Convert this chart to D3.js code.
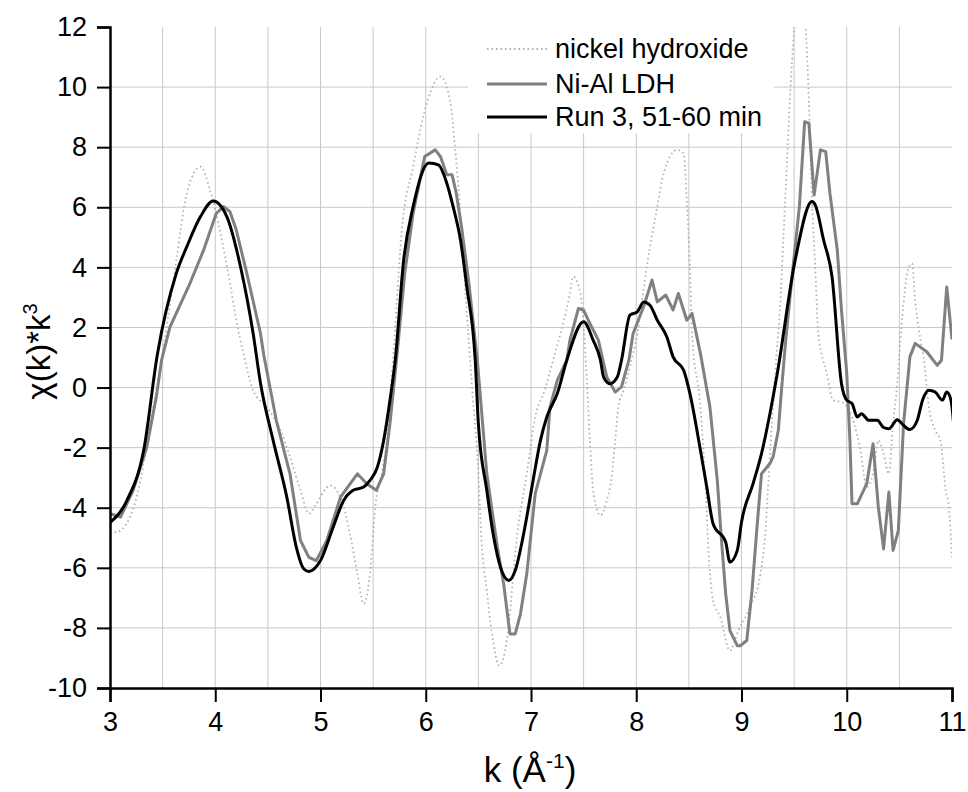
<!DOCTYPE html>
<html>
<head>
<meta charset="utf-8">
<script src="https://cdn.jsdelivr.net/npm/d3@7"></script>
<style>
  body { margin: 0; background: #fff; }
  svg text { font-family: "Liberation Sans", Arial, sans-serif; }
</style>
</head>
<body>
<div id="chart"></div>
<script>
// nickel hydroxide (dotted reference)
const niK = [3.00, 3.06, 3.19, 3.29, 3.38, 3.46, 3.63, 3.73, 3.86, 3.95, 4.05, 4.14, 4.20, 4.27, 4.36, 4.49, 4.62, 4.71, 4.81, 4.89, 4.96, 5.09, 5.19, 5.28, 5.35, 5.41, 5.47, 5.52, 5.58, 5.63, 5.70, 5.77, 5.88, 6.02, 6.14, 6.23, 6.28, 6.31, 6.38, 6.44, 6.50, 6.53, 6.58, 6.63, 6.70, 6.77, 6.87, 6.96, 7.04, 7.13, 7.21, 7.37, 7.40, 7.47, 7.51, 7.56, 7.59, 7.66, 7.72, 7.77, 7.80, 7.83, 7.88, 7.94, 8.01, 8.10, 8.20, 8.26, 8.39, 8.45, 8.48, 8.51, 8.53, 8.61, 8.66, 8.69, 8.73, 8.80, 8.89, 8.97, 9.08, 9.18, 9.23, 9.26, 9.32, 9.37, 9.40, 9.43, 9.46, 9.50, 9.56, 9.64, 9.67, 9.70, 9.73, 9.81, 9.87, 9.96, 10.07, 10.13, 10.19, 10.25, 10.30, 10.35, 10.40, 10.44, 10.48, 10.51, 10.59, 10.62, 10.65, 10.69, 10.73, 10.78, 10.84, 10.89, 10.94, 10.97, 11.00];
const niY = [-4.8, -4.81, -4.31, -3.09, -1.2, 0.24, 4.24, 6.47, 7.35, 6.58, 5.13, 3.47, 2.24, 1.1, -0.09, -0.65, -1.42, -2.31, -3.42, -4.2, -3.87, -3.26, -3.65, -4.87, -6.2, -7.2, -6.2, -3.98, -2.87, -1.76, 1.5, 5.13, 7.35, 9.58, 10.35, 9.58, 7.91, 6.69, 3.0, 0.0, -2.87, -5.09, -6.76, -8.2, -9.26, -8.42, -4.87, -2.87, -0.98, -0.09, 0.91, 3.13, 3.69, 3.13, 1.5, -1.76, -3.42, -4.26, -3.76, -2.87, -1.76, -0.65, -0.09, 0.69, 1.8, 4.02, 6.02, 7.13, 7.91, 7.8, 6.24, 4.02, 1.8, -0.65, -3.42, -5.65, -7.09, -7.65, -8.76, -8.09, -7.31, -6.2, -4.65, -2.87, 0.5, 2.91, 5.13, 7.35, 9.58, 11.9, 13.5, 9.58, 6.24, 4.02, 1.8, 0.47, -0.42, -0.5, -1.2, -2.09, -3.31, -2.87, -1.76, -2.2, -2.87, -1.2, 0.13, 1.58, 4.02, 4.13, 2.91, 1.8, 1.02, -0.65, -1.42, -1.76, -3.42, -3.98, -5.65];

// Ni-Al LDH (grey)
const ldhK = [3.00, 3.10, 3.22, 3.35, 3.44, 3.49, 3.57, 3.76, 3.89, 4.01, 4.08, 4.14, 4.20, 4.30, 4.43, 4.46, 4.58, 4.71, 4.81, 4.89, 4.96, 5.06, 5.19, 5.35, 5.44, 5.53, 5.60, 5.66, 5.73, 5.80, 5.88, 5.99, 6.09, 6.14, 6.20, 6.25, 6.29, 6.34, 6.41, 6.49, 6.58, 6.68, 6.74, 6.80, 6.85, 6.90, 6.96, 7.04, 7.15, 7.18, 7.25, 7.34, 7.37, 7.45, 7.50, 7.56, 7.64, 7.72, 7.80, 7.86, 7.93, 7.97, 8.07, 8.15, 8.20, 8.28, 8.35, 8.40, 8.48, 8.53, 8.61, 8.70, 8.77, 8.81, 8.85, 8.89, 8.96, 8.99, 9.05, 9.10, 9.15, 9.19, 9.27, 9.30, 9.35, 9.38, 9.42, 9.49, 9.55, 9.60, 9.64, 9.69, 9.75, 9.80, 9.84, 9.91, 9.95, 10.00, 10.03, 10.05, 10.10, 10.19, 10.25, 10.30, 10.35, 10.40, 10.44, 10.49, 10.54, 10.60, 10.65, 10.76, 10.86, 10.90, 10.95, 11.00];
const ldhY = [-4.2, -4.31, -3.42, -1.98, -0.31, 0.91, 2.02, 3.47, 4.58, 5.8, 6.02, 5.85, 5.24, 3.8, 1.8, 1.1, -1.09, -2.87, -5.09, -5.65, -5.76, -5.09, -3.65, -2.87, -3.2, -3.42, -2.87, -1.2, 1.2, 3.8, 5.8, 7.69, 7.91, 7.69, 7.08, 7.08, 6.47, 5.35, 3.47, 0.91, -2.87, -5.31, -6.53, -8.2, -8.2, -7.53, -6.2, -3.53, -2.09, -0.65, 0.24, 0.91, 1.58, 2.63, 2.58, 2.13, 1.58, 0.35, -0.15, 0.02, 0.91, 1.8, 2.69, 3.58, 2.85, 3.08, 2.58, 3.13, 2.24, 2.47, 1.13, -0.65, -3.09, -5.09, -6.87, -8.09, -8.59, -8.59, -8.42, -6.76, -4.53, -2.87, -2.53, -2.31, -1.42, -0.09, 1.58, 4.02, 6.02, 8.85, 8.8, 6.41, 7.91, 7.85, 6.47, 4.58, 2.58, 0.47, -1.76, -3.87, -3.87, -3.2, -1.87, -3.98, -5.37, -3.48, -5.42, -4.76, -1.2, 1.02, 1.47, 1.19, 0.74, 0.91, 3.35, 1.6];

// Run 3, 51-60 min (black)
const runK = [3.00, 3.16, 3.32, 3.45, 3.63, 3.73, 3.86, 3.98, 4.11, 4.24, 4.36, 4.43, 4.55, 4.68, 4.77, 4.84, 4.89, 5.00, 5.12, 5.22, 5.31, 5.41, 5.47, 5.54, 5.60, 5.66, 5.71, 5.79, 5.88, 6.03, 6.12, 6.20, 6.26, 6.33, 6.39, 6.47, 6.50, 6.58, 6.64, 6.71, 6.79, 6.85, 6.93, 7.02, 7.09, 7.15, 7.25, 7.34, 7.50, 7.59, 7.66, 7.69, 7.75, 7.82, 7.86, 7.94, 8.01, 8.07, 8.13, 8.20, 8.29, 8.35, 8.45, 8.51, 8.61, 8.67, 8.73, 8.85, 8.89, 8.96, 9.00, 9.11, 9.19, 9.27, 9.34, 9.51, 9.67, 9.70, 9.78, 9.86, 9.95, 10.00, 10.05, 10.10, 10.14, 10.21, 10.29, 10.35, 10.40, 10.48, 10.54, 10.60, 10.67, 10.72, 10.78, 10.84, 10.91, 10.95, 10.99, 11.02];
const runY = [-4.5, -3.76, -2.09, 1.1, 3.8, 4.69, 5.69, 6.21, 5.69, 4.02, 1.8, 0.14, -1.76, -3.65, -5.31, -6.03, -6.12, -5.76, -4.65, -3.76, -3.42, -3.31, -3.09, -2.65, -1.76, -0.42, 0.91, 4.24, 6.02, 7.47, 7.41, 6.8, 6.02, 4.91, 3.35, 0.91, -1.2, -3.42, -4.87, -5.98, -6.42, -6.09, -4.87, -3.09, -1.76, -0.98, -0.2, 0.91, 2.19, 1.58, 0.91, 0.35, 0.13, 0.35, 0.91, 2.41, 2.52, 2.85, 2.74, 2.24, 1.69, 1.02, 0.58, -0.2, -2.09, -3.31, -4.53, -5.15, -5.81, -5.42, -4.48, -3.2, -2.2, -0.87, 0.47, 4.24, 6.19, 6.08, 4.91, 3.69, 0.13, -0.42, -0.53, -0.98, -0.87, -1.09, -1.09, -1.33, -1.37, -1.07, -1.26, -1.4, -1.09, -0.42, -0.09, -0.15, -0.42, -0.15, -0.42, -1.4];

const legendLabels = ["nickel hydroxide", "Ni-Al LDH", "Run 3, 51-60 min"];
const xTicks = [3, 4, 5, 6, 7, 8, 9, 10, 11];
const yTicks = [-10, -8, -6, -4, -2, 0, 2, 4, 6, 8, 10, 12];

const width = 968, height = 792;
const margin = { top: 27, right: 16, bottom: 104, left: 110 };
const plotW = width - margin.left - margin.right;
const plotH = height - margin.top - margin.bottom;

const svg = d3.select("#chart").append("svg")
    .attr("width", width)
    .attr("height", height)
    .style("background", "#fff");

const x = d3.scaleLinear().domain([3, 11]).range([margin.left, margin.left + plotW]);
const y = d3.scaleLinear().domain([-10, 12]).range([margin.top + plotH, margin.top]);

svg.append("defs").append("clipPath").attr("id", "plotClip")
    .append("rect")
    .attr("x", margin.left).attr("y", margin.top)
    .attr("width", plotW).attr("height", plotH);

// Grid: vertical every 0.5, horizontal every 2
const grid = svg.append("g").attr("stroke", "#c8c8c8").attr("stroke-width", 1);
grid.selectAll(".vg")
    .data(d3.range(3.5, 11, 0.5))
    .enter().append("line")
    .attr("x1", d => x(d)).attr("x2", d => x(d))
    .attr("y1", y(12)).attr("y2", y(-10));
grid.selectAll(".hg")
    .data(yTicks.filter(d => d > -10 && d < 12))
    .enter().append("line")
    .attr("x1", x(3)).attr("x2", x(11))
    .attr("y1", d => y(d)).attr("y2", d => y(d));

// Legend background covers the grid
svg.append("rect")
    .attr("x", 468).attr("y", margin.top)
    .attr("width", 306).attr("height", 106)
    .attr("fill", "#fff");

const line = d3.line().x(d => x(d[0])).y(d => y(d[1]));
const zip = (ks, vs) => ks.map((k, i) => [k, vs[i]]);

const curves = svg.append("g").attr("clip-path", "url(#plotClip)");

curves.append("path")
    .datum(zip(niK, niY))
    .attr("fill", "none")
    .attr("stroke", "#b0b0b0")
    .attr("stroke-width", 1.8)
    .attr("stroke-dasharray", "1.5,3")
    .attr("d", line.curve(d3.curveMonotoneX));

curves.append("path")
    .datum(zip(ldhK, ldhY))
    .attr("fill", "none")
    .attr("stroke", "#808080")
    .attr("stroke-width", 3)
    .attr("stroke-linejoin", "round")
    .attr("d", line.curve(d3.curveLinear));

curves.append("path")
    .datum(zip(runK, runY))
    .attr("fill", "none")
    .attr("stroke", "#000")
    .attr("stroke-width", 3)
    .attr("stroke-linejoin", "round")
    .attr("d", line.curve(d3.curveMonotoneX));

// Axes
const xAxis = svg.append("g").attr("transform", `translate(0,${y(-10)})`);
xAxis.call(d3.axisBottom(x).tickValues(d3.range(3.5, 11, 1)).tickSize(6).tickFormat(""));
xAxis.call(d3.axisBottom(x).tickValues(xTicks).tickSize(14).tickPadding(10).tickFormat(d => d));
xAxis.selectAll(".domain").attr("stroke-width", 2.5);
xAxis.selectAll("line").attr("stroke-width", 2);
xAxis.selectAll("text").attr("font-size", 27).attr("fill", "#000");

const yAxis = svg.append("g").attr("transform", `translate(${x(3)},0)`);
yAxis.call(d3.axisLeft(y).tickValues(d3.range(-9, 12, 2)).tickSize(7).tickFormat(""));
yAxis.call(d3.axisLeft(y).tickValues(yTicks).tickSize(13).tickPadding(10).tickFormat(d => d));
yAxis.selectAll(".domain").attr("stroke-width", 2.5);
yAxis.selectAll("line").attr("stroke-width", 2);
yAxis.selectAll("text").attr("font-size", 27).attr("fill", "#000");

// Axis titles
const xt = svg.append("text")
    .attr("x", 530).attr("y", 782)
    .attr("text-anchor", "middle")
    .attr("font-size", 35);
xt.append("tspan").text("k (Å");
xt.append("tspan").attr("dy", -14).attr("font-size", 21).text("-1");
xt.append("tspan").attr("dy", 14).text(")");

const yt = svg.append("text")
    .attr("transform", `translate(50,${y(1.2)}) rotate(-90)`)
    .attr("text-anchor", "middle")
    .attr("font-size", 33);
yt.append("tspan").text("χ(k)*k");
yt.append("tspan").attr("dy", -13).attr("font-size", 20).text("3");

// Legend
const legendY = [49, 84, 117];
const legendStyles = [
    { stroke: "#b0b0b0", width: 1.8, dash: "1.5,3" },
    { stroke: "#808080", width: 3, dash: null },
    { stroke: "#000", width: 3, dash: null }
];
const leg = svg.append("g");
legendLabels.forEach((label, i) => {
    leg.append("line")
        .attr("x1", 487).attr("x2", 547)
        .attr("y1", legendY[i]).attr("y2", legendY[i])
        .attr("stroke", legendStyles[i].stroke)
        .attr("stroke-width", legendStyles[i].width)
        .attr("stroke-dasharray", legendStyles[i].dash);
    leg.append("text")
        .attr("x", 555).attr("y", legendY[i])
        .attr("dy", "0.35em")
        .attr("font-size", 27)
        .text(label);
});
</script>
</body>
</html>
